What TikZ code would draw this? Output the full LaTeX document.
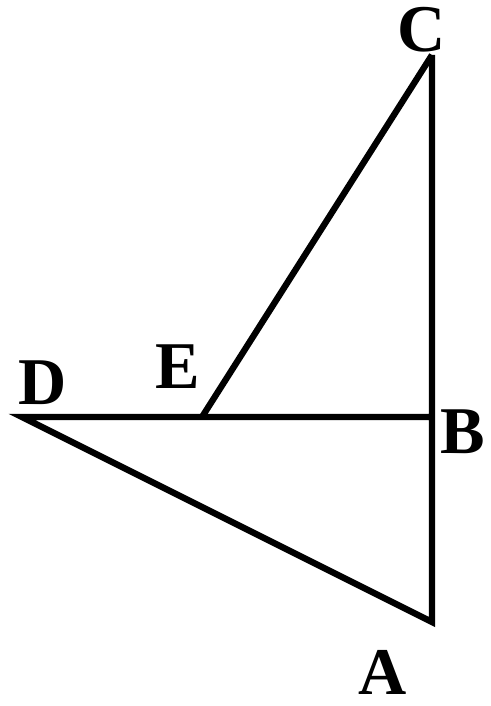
\documentclass[tikz,border=0pt]{standalone}
\usepackage{fontspec}
\setmainfont{Liberation Serif}
\usetikzlibrary{positioning}
\tikzset{
  seg/.style={draw=black, line width=3.6pt, line join=miter},
  lbl/.style={font=\fontsize{38}{40}\selectfont\bfseries, text=black, inner sep=0pt},
}
\begin{document}
\begin{tikzpicture}
\useasboundingbox (0,0) rectangle (9.82,14.12);
% ---- points ----------------------------------------------------------------
\coordinate (C) at (8.64, 13.02);
\coordinate (B) at (8.64, 5.78);
\coordinate (A) at (8.64, 1.68);
\coordinate (D) at (0.44, 5.78);
\coordinate (E) at (4.04, 5.78);

% ---- labels ----------------------------------------------------------------
\node[lbl] (lC) at (8.44, 13.52) {C};
\node[lbl] (lB) at (9.26, 5.48) {B};
\node[lbl] (lA) at (7.66, 0.68) {A};
\node[lbl] (lD) at (0.86, 6.46) {D};
\node[lbl] (lE) at (3.56, 6.78) {E};

% ---- segments --------------------------------------------------------------
\draw[seg] (C) -- (A) -- (D) -- (B);
\draw[seg] (E) -- (C);
\end{tikzpicture}
\end{document}
